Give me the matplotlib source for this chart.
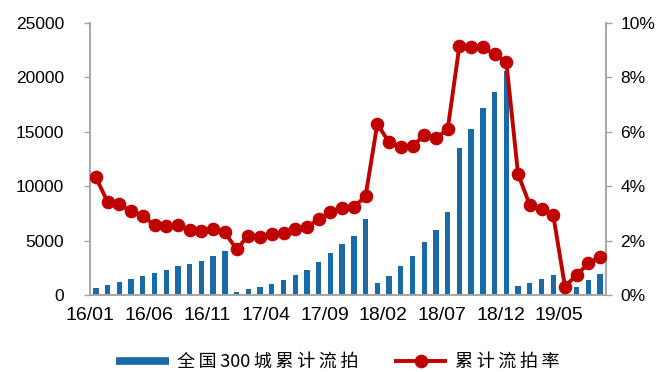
import matplotlib
matplotlib.use("Agg")
import matplotlib.pyplot as plt
from matplotlib import font_manager
from matplotlib.lines import Line2D

# Monthly data, 2016-01 .. 2019-08
months = [f"{y:02d}/{m:02d}" for y in (16, 17, 18, 19) for m in range(1, 13)][:44]

failed_auctions = [
    650, 890, 1195, 1500, 1775, 2020, 2330, 2700, 2850, 3125, 3585, 4045,
    275, 550, 750, 1050, 1380, 1840, 2330, 3000, 3890, 4690, 5390, 6985,
    1130, 1745, 2700, 3585, 4900, 5970, 7660, 13540, 15230, 17190, 18690, 20620,
    860, 1100, 1470, 1870, 300, 700, 1420, 1960,
]

failure_rate = [
    4.33, 3.42, 3.33, 3.09, 2.90, 2.57, 2.52, 2.56, 2.40, 2.36, 2.41, 2.30,
    1.68, 2.18, 2.13, 2.25, 2.29, 2.41, 2.50, 2.78, 3.05, 3.20, 3.22, 3.64,
    6.29, 5.61, 5.44, 5.47, 5.87, 5.77, 6.09, 9.17, 9.11, 9.11, 8.85, 8.57,
    4.45, 3.31, 3.16, 2.94, 0.31, 0.74, 1.16, 1.40,
]

bar_label = "全国300城累计流拍"
line_label = "累计流拍率"

BLUE = "#1B6AA5"
RED = "#C00000"
GREY = "#A6A6A6"


def spaced(text):
    """Put a thin space after each CJK character for looser tracking."""
    out = []
    for i, ch in enumerate(text):
        out.append(ch)
        if i < len(text) - 1 and (ord(ch) > 0x2E80 or ord(text[i + 1]) > 0x2E80):
            out.append("\u2009")
    return "".join(out)


available = {f.name for f in font_manager.fontManager.ttflist}
narrow = "Liberation Sans Narrow" if "Liberation Sans Narrow" in available else "Liberation Sans"
plt.rcParams["font.family"] = ["Liberation Sans", "DejaVu Sans"]

fig = plt.figure(figsize=(6.56, 3.72), dpi=100)
ax = fig.add_axes([90 / 656, 1 - 295 / 372, (606 - 90) / 656, (295 - 23) / 372])
ax2 = ax.twinx()

x = list(range(len(months)))
ax.bar(x, failed_auctions, width=0.45, color=BLUE, zorder=2)
ax2.plot(x, failure_rate, color=RED, lw=2.8, marker="o", ms=8.8,
         markerfacecolor=RED, markeredgecolor=RED, zorder=3)

ax.set_xlim(-0.5, len(months) - 0.5)
ax.set_ylim(0, 25000)
ax2.set_ylim(0, 10)
ax.set_yticks(range(0, 25001, 5000))
ax2.set_yticks(range(0, 11, 2))
ax2.set_yticklabels([f"{v}%" for v in range(0, 11, 2)])

tick_idx = list(range(0, len(months), 5))
ax.set_xticks([i - 0.5 for i in tick_idx])
ax.set_xticklabels([months[i] for i in tick_idx], family=[narrow, "DejaVu Sans"],
                   fontsize=14)
ax.tick_params(axis="x", length=0, pad=9, colors="black")
ax.tick_params(axis="y", length=4.5, width=1, color=GREY, pad=14,
               labelsize=12.5, labelcolor="black", direction="out")
ax2.tick_params(axis="y", length=4.5, width=1, color=GREY, pad=6,
                labelsize=12.5, labelcolor="black", direction="out")

for a in (ax, ax2):
    a.spines["top"].set_visible(False)
    for s in ("left", "right", "bottom"):
        a.spines[s].set_color(GREY)
        a.spines[s].set_linewidth(1.4)
ax.spines["right"].set_visible(False)
ax2.spines["left"].set_visible(False)
ax2.spines["bottom"].set_visible(False)

handles = [
    Line2D([], [], color=BLUE, lw=5.5, solid_capstyle="butt"),
    Line2D([], [], color=RED, lw=2.8, marker="o", ms=8.8, solid_capstyle="butt"),
]
fig.legend(handles, [spaced(bar_label), spaced(line_label)], loc="center",
           bbox_to_anchor=(0.515, 1 - 362 / 372), ncol=2, frameon=False,
           prop={"family": ["Noto Sans CJK SC", "DejaVu Sans"], "size": 13},
           handlelength=2.9, handletextpad=0.45, columnspacing=2.0)

fig.savefig("out.png", dpi=100, facecolor="white")
